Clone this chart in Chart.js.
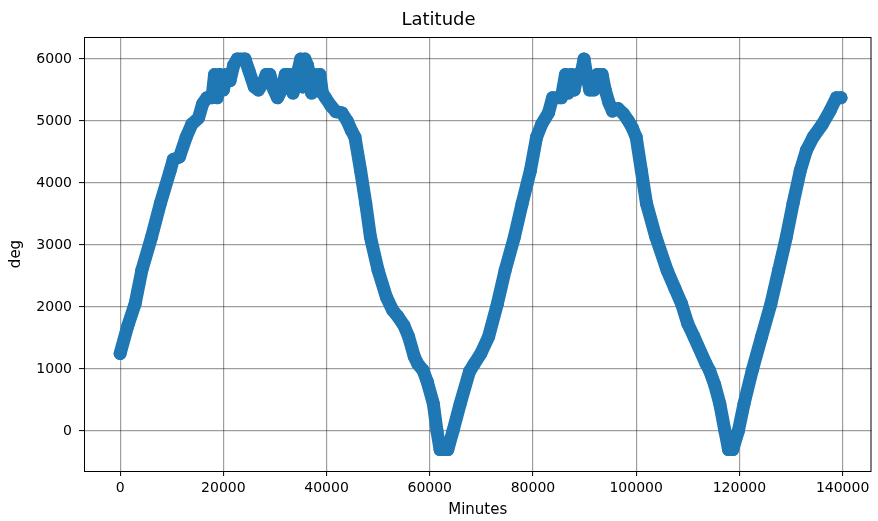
<!DOCTYPE html>
<html>
<head>
<meta charset="utf-8">
<title>Latitude</title>
<script src="https://cdn.jsdelivr.net/npm/chart.js@4/dist/chart.umd.min.js"></script>
<style>
  html, body { margin: 0; padding: 0; background: #fff; }
  #wrap { width: 878px; height: 521px; }
</style>
</head>
<body>
<div id="wrap"><canvas id="lat" width="878" height="521"></canvas></div>
<script>
/* ── Samples: elapsed minutes vs latitude ── */
const minutes = [
  0, 1500, 2900, 4200, 6100, 7800, 9700, 10300, 11500, 12800,
  13900, 15200, 16000, 16800, 17800, 18300, 18800, 19300, 20000, 20600,
  21300, 22000, 22700, 24200, 25000, 26000, 26800, 27600, 28300, 29000,
  29800, 30500, 31300, 32000, 32800, 33500, 34300, 35000, 35400, 35800,
  36300, 36700, 37100, 37600, 38200, 38700, 39200, 39800, 40800, 41800,
  43000, 44000, 44800, 45500, 46600, 47600, 48500, 50000, 51600, 52800,
  53800, 55000, 55900, 57000, 57700, 58700, 59500, 60700, 61400, 62000,
  63500, 64500, 65900, 67700, 68600, 69900, 71400, 73100, 74600, 76400,
  77900, 79500, 80700, 81700, 83000, 83800, 85500, 86300, 86800, 87400,
  88000, 88600, 89300, 89900, 90400, 91000, 91800, 92500, 93400, 94000,
  94700, 95400, 96500, 97500, 98500, 99300, 100000, 101000, 102000, 103800,
  106000, 107500, 108800, 110000, 111200, 113500, 114200, 115200, 116200, 117200,
  117900, 118700, 119800, 120900, 122500, 124300, 126100, 127600, 129100, 130400,
  131800, 133000, 134300, 136100, 137600, 138800, 139700
];
const latitude = [
  1250, 1700, 2050, 2590, 3130, 3670, 4200, 4380, 4420, 4740,
  4950, 5050, 5280, 5375, 5375, 5750, 5375, 5750, 5500, 5750,
  5650, 5900, 6000, 6000, 5800, 5550, 5500, 5600, 5750, 5750,
  5500, 5375, 5500, 5750, 5750, 5450, 5750, 6000, 5550, 6000,
  5900, 5750, 5450, 5750, 5500, 5750, 5450, 5375, 5250, 5150,
  5130, 5000, 4850, 4740, 4200, 3670, 3130, 2590, 2160, 1950,
  1850, 1700, 1520, 1200, 1080, 980, 800, 440, 0, -300,
  -300, 0, 440, 960, 1080, 1250, 1520, 2050, 2590, 3130,
  3670, 4200, 4740, 4950, 5130, 5375, 5375, 5750, 5450, 5750,
  5500, 5750, 5750, 6000, 5750, 5500, 5500, 5750, 5750, 5500,
  5300, 5160, 5200, 5120, 5000, 4880, 4740, 4200, 3670, 3130,
  2590, 2300, 2050, 1730, 1520, 1090, 980, 750, 440, 0,
  -300, -300, 0, 440, 980, 1520, 2050, 2590, 3130, 3670,
  4200, 4530, 4740, 4950, 5170, 5375, 5375
];

/* ── Axis ticks ── */
const xTicks = [0, 20000, 40000, 60000, 80000, 100000, 120000, 140000];
const yTicks = [0, 1000, 2000, 3000, 4000, 5000, 6000];

const BLUE = '#1f77b4';
const GRID = 'rgba(0,0,0,0.38)';
const FONT = "'DejaVu Sans', sans-serif";

/* ── Box around the plot area ── */
const frame = {
  id: 'frame',
  afterDatasetsDraw(chart) {
    const { ctx, chartArea: a } = chart;
    ctx.save();
    ctx.strokeStyle = '#000';
    ctx.lineWidth = 1;
    ctx.strokeRect(a.left + 0.5, a.top + 0.5, a.right - a.left - 1, a.bottom - a.top);
    ctx.restore();
  }
};

function fixedTicks(values) {
  return scale => { scale.ticks = values.map(v => ({ value: v })); };
}

Chart.defaults.font.family = FONT;
Chart.defaults.color = '#000';

new Chart(document.getElementById('lat'), {
  type: 'scatter',
  data: {
    datasets: [{
      data: minutes.map((m, i) => ({ x: m, y: latitude[i] })),
      showLine: true,
      borderColor: BLUE,
      borderWidth: 13,
      borderJoinStyle: 'round',
      borderCapStyle: 'round',
      backgroundColor: BLUE,
      pointRadius: 6.5,
      pointBorderWidth: 0,
      pointHoverRadius: 6.5
    }]
  },
  options: {
    responsive: false,
    animation: false,
    devicePixelRatio: 1,
    layout: { padding: { top: 0, left: 0, right: 1, bottom: 0 } },
    plugins: {
      legend: { display: false },
      tooltip: { enabled: false },
      title: {
        display: true,
        text: 'Latitude',
        font: { size: 18, weight: 'normal', family: FONT },
        color: '#000',
        padding: { top: 10, bottom: 5.4 }
      }
    },
    scales: {
      x: {
        type: 'linear',
        min: -7000,
        max: 145600,
        afterBuildTicks: fixedTicks(xTicks),
        afterFit: s => { s.height = 50; },
        grid: { color: GRID, lineWidth: 1.2, tickColor: '#000', tickLength: 5, tickWidth: 1 },
        border: { display: false },
        ticks: { font: { size: 14 }, padding: 4, maxRotation: 0, callback: v => String(v) },
        title: { display: true, text: 'Minutes', font: { size: 15 }, padding: { top: 0, bottom: 2 } }
      },
      y: {
        type: 'linear',
        min: -645,
        max: 6355,
        afterBuildTicks: fixedTicks(yTicks),
        afterFit: s => { s.width = 84; },
        grid: { color: GRID, lineWidth: 1.2, tickColor: '#000', tickLength: 5, tickWidth: 1 },
        border: { display: false },
        ticks: { font: { size: 14 }, padding: 7, callback: v => String(v) },
        title: { display: true, text: 'deg', font: { size: 15 }, padding: { top: 7, bottom: 0 } }
      }
    }
  },
  plugins: [frame]
});
</script>
</body>
</html>
